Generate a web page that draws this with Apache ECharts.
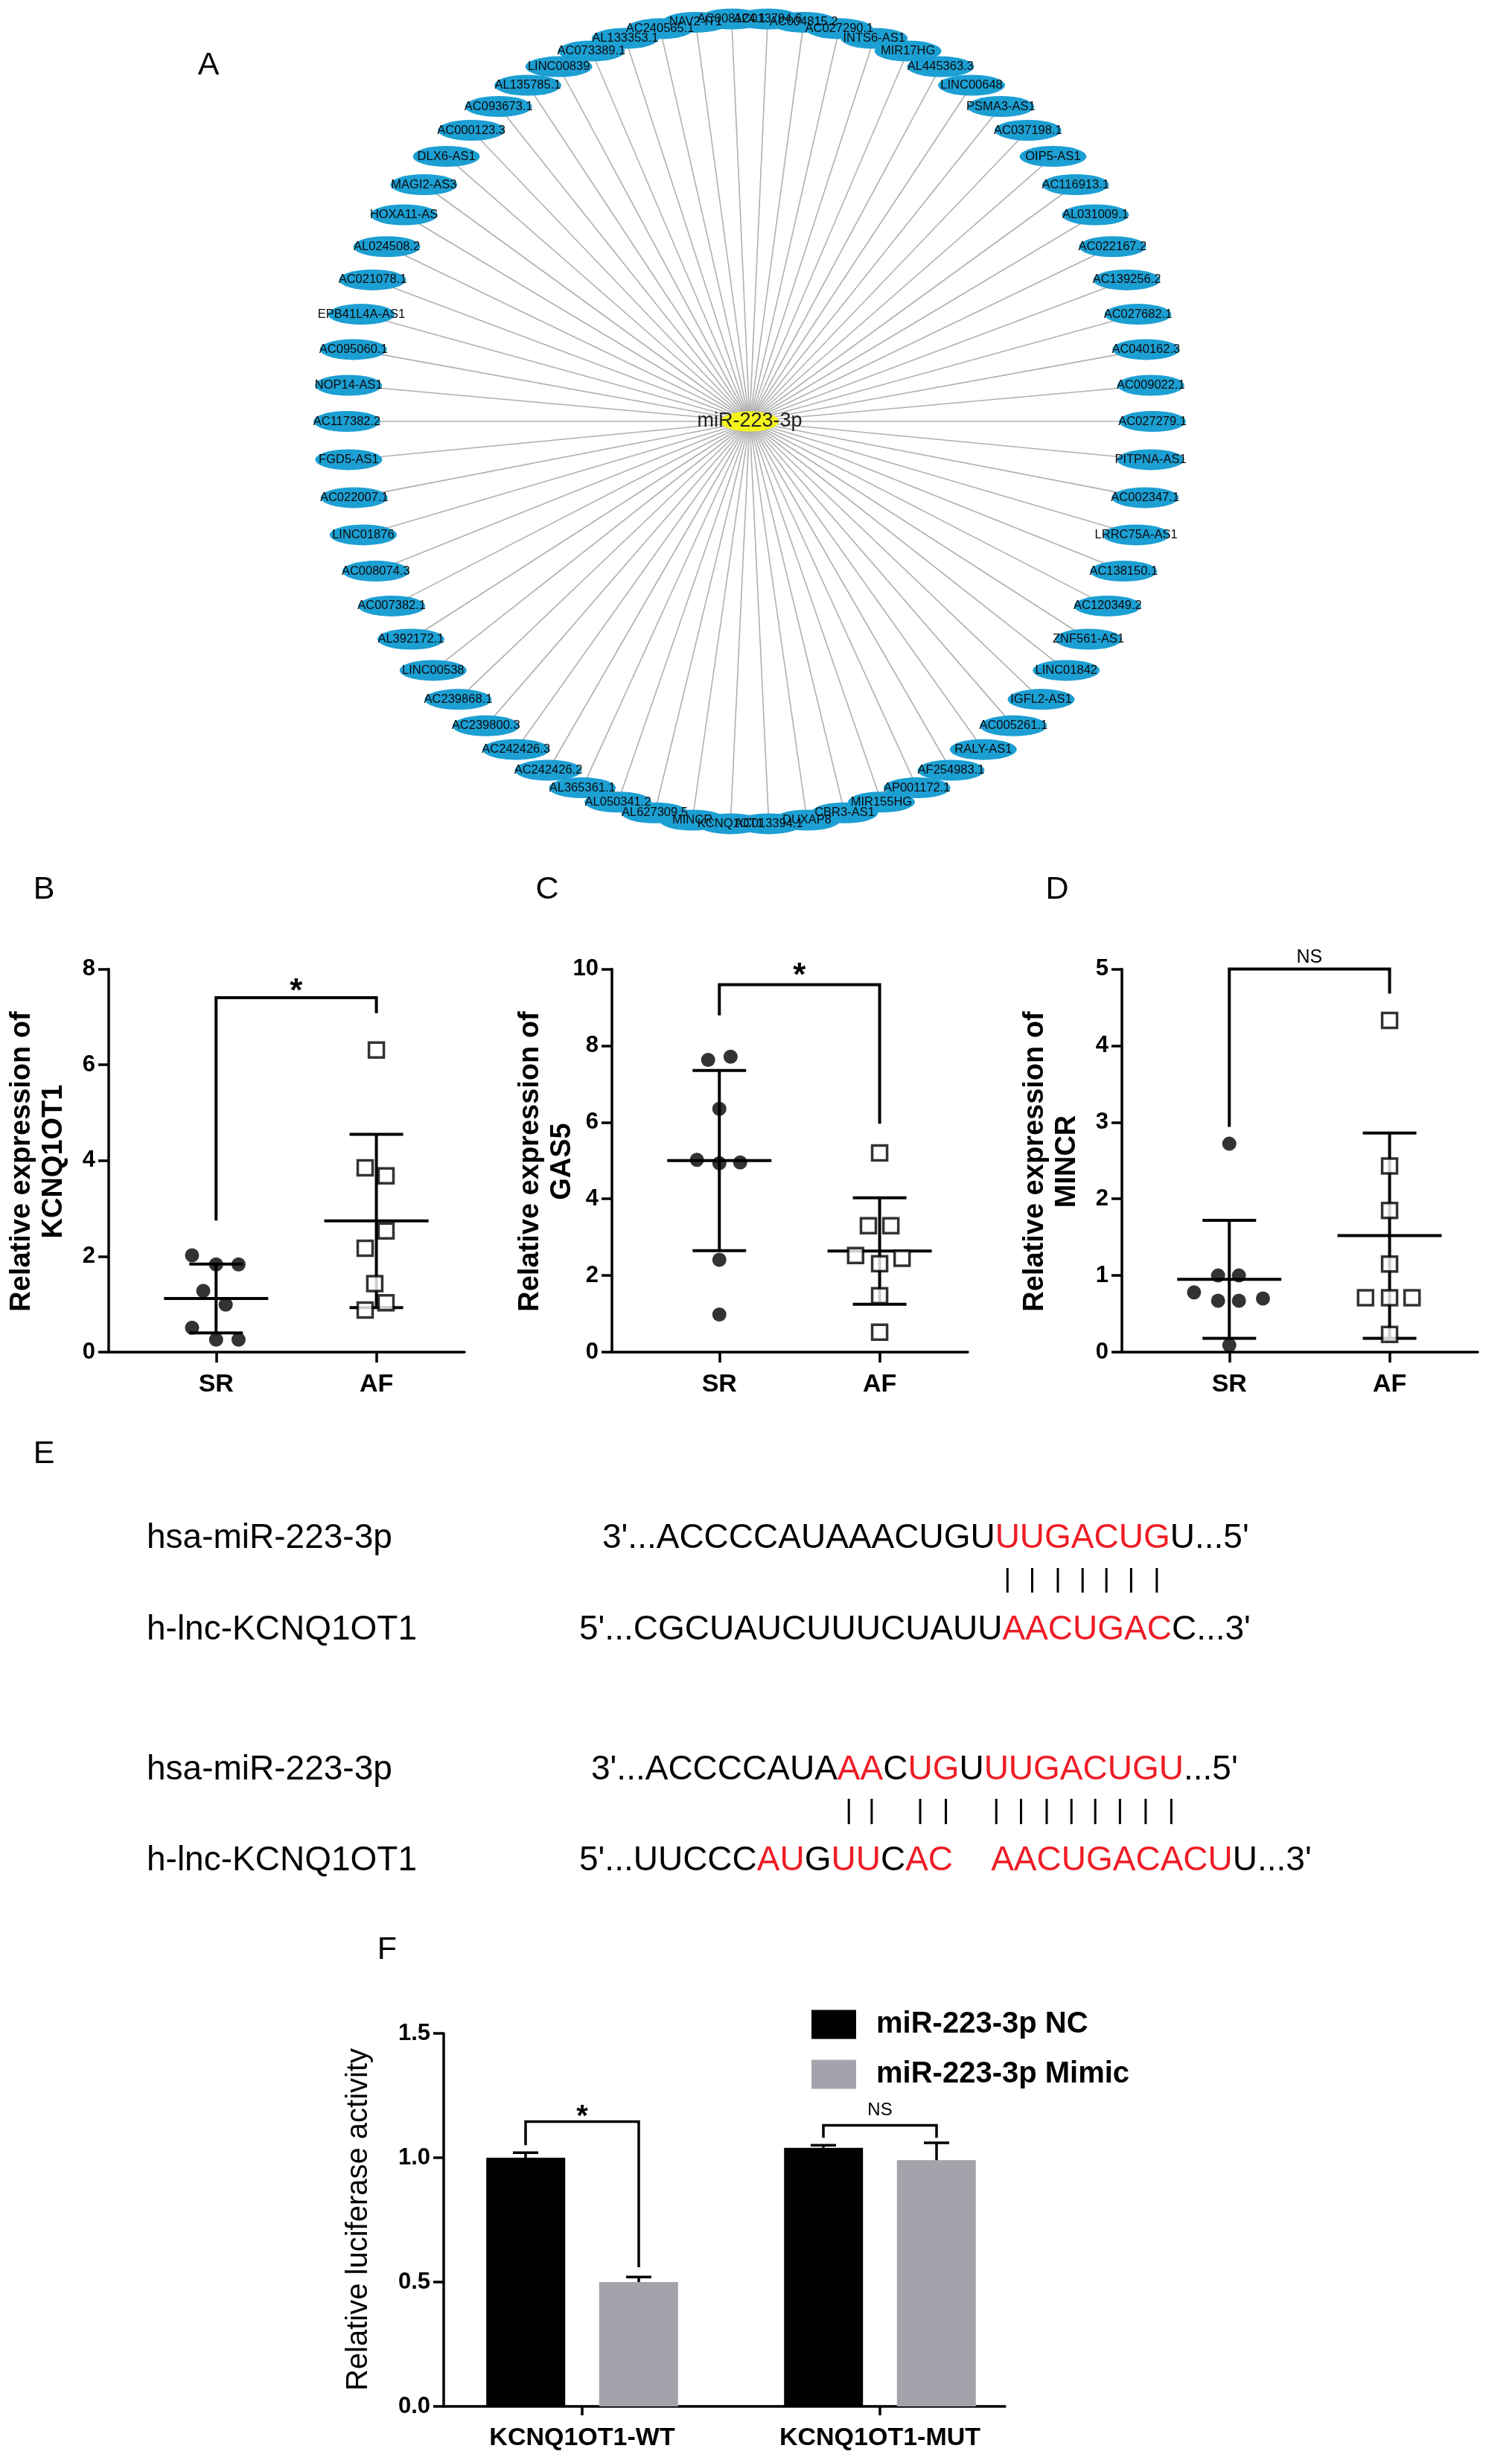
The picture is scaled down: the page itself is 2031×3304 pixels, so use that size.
<!DOCTYPE html>
<html><head><meta charset="utf-8">
<script src="https://cdn.jsdelivr.net/npm/echarts@6/dist/echarts.min.js"></script>
<style>html,body{margin:0;padding:0;background:#fff}#c{width:2031px;height:3304px}</style>
</head><body><div id="c"></div>
<script>
const FONT = '"Liberation Sans", Arial, Helvetica, sans-serif';

// ---------- Panel A : network ----------
const hubName = 'miR-223-3p';
const lncNodes = ['AC008124.1','NAV2-IT1','AC240565.1','AL133353.1','AC073389.1','LINC00839','AL135785.1',
  'AC093673.1','AC000123.3','DLX6-AS1','MAGI2-AS3','HOXA11-AS','AL024508.2','AC021078.1','EPB41L4A-AS1',
  'AC095060.1','NOP14-AS1','AC117382.2','FGD5-AS1','AC022007.1','LINC01876','AC008074.3','AC007382.1',
  'AL392172.1','LINC00538','AC239868.1','AC239800.3','AC242426.3','AC242426.2','AL365361.1','AL050341.2',
  'AL627309.5','MINCR','KCNQ1OT1','AC013394.1','DUXAP8','CBR3-AS1','MIR155HG','AP001172.1','AF254983.1',
  'RALY-AS1','AC005261.1','IGFL2-AS1','LINC01842','ZNF561-AS1','AC120349.2','AC138150.1','LRRC75A-AS1',
  'AC002347.1','PITPNA-AS1','AC027279.1','AC009022.1','AC040162.3','AC027682.1','AC139256.2','AC022167.2',
  'AL031009.1','AC116913.1','OIP5-AS1','AC037198.1','PSMA3-AS1','LINC00648','AL445363.3','MIR17HG',
  'INTS6-AS1','AC027290.1','AC004815.2','AC013794.6'];

// ---------- Panels B-D : expression dot plots ----------
const groups = ['SR', 'AF'];
const kcnq1ot1SR = [2.02, 1.83, 1.83, 1.28, 0.99, 0.51, 0.26, 0.26];
const kcnq1ot1AF = [6.31, 3.85, 3.68, 2.53, 2.17, 1.43, 0.88, 1.03];
const gas5SR = [7.63, 7.71, 6.35, 5.02, 4.93, 4.95, 2.41, 0.98];
const gas5AF = [5.20, 3.30, 3.30, 2.52, 2.31, 2.45, 1.47, 0.52];
const mincrSR = [2.72, 1.00, 1.00, 0.78, 0.67, 0.67, 0.70, 0.09];
const mincrAF = [4.33, 2.43, 1.85, 1.15, 0.71, 0.71, 0.71, 0.23];
const kcnq1ot1Mean = [1.12, 2.74], kcnq1ot1SD = [0.72, 1.81];
const gas5Mean = [5.00, 2.64], gas5SD = [2.35, 1.39];
const mincrMean = [0.95, 1.52], mincrSD = [0.77, 1.34];
// significance brackets: [left leg bottom, right leg bottom, bracket top, label level]
const kcnq1ot1Bracket = [2.75, 7.08, 7.40, 7.67];
const gas5Bracket = [8.79, 5.96, 9.59, 10.0];
const mincrBracket = [2.94, 4.68, 5.00, 5.15];
const sigLabels = ['*', '*', 'NS'];
const yMaxBCD = [8, 10, 5];
const yStepBCD = [2, 2, 1];
// horizontal scatter offsets of the dots inside each column (layout only)
const jitKSR = [-0.15, 0, 0.14, -0.08, 0.06, -0.15, 0, 0.14];
const jitKAF = [0, -0.07, 0.06, 0.06, -0.07, -0.01, -0.07, 0.06];
const jitGSR = [-0.07, 0.07, 0, -0.14, 0, 0.13, 0, 0];
const jitGAF = [0, -0.07, 0.07, -0.15, 0, 0.14, 0, 0];
const jitMSR = [0, -0.07, 0.06, -0.22, -0.07, 0.06, 0.21, 0];
const jitMAF = [0, 0, 0, 0, -0.15, 0, 0.14, 0];

// ---------- Panel F : luciferase ----------
const lucCats = ['KCNQ1OT1-WT', 'KCNQ1OT1-MUT'];
const lucSeries = ['miR-223-3p NC', 'miR-223-3p Mimic'];
const lucNC = [1.00, 1.04], lucNCErr = [0.02, 0.01];
const lucMimic = [0.50, 0.99], lucMimicErr = [0.02, 0.07];
const lucBrackets = [[1.05, 0.56, 1.145, 1.19], [1.08, 1.08, 1.13, 1.19]];
const lucSig = ['*', 'NS'];

// ---------- Panel E : sequences ----------
const seqRows = [
  {label: 'hsa-miR-223-3p', segs: [["3'...ACCCCAUAAACUGU",0],["UUGACUG",1],["U...5'",0]]},
  {label: 'h-lnc-KCNQ1OT1', segs: [["5'...CGCUAUCUUUCUAUU",0],["AACUGAC",1],["C...3'",0]]},
  {label: 'hsa-miR-223-3p', segs: [["3'...ACCCCAUA",0],["AA",1],["C",0],["UG",1],["U",0],["UUGACUGU",1],["...5'",0]]},
  {label: 'h-lnc-KCNQ1OT1', segs: [["5'...UUCCC",0],["AU",1],["G",0],["UU",1],["C",0],["AC",1],["    ",0],["AACUGACACU",1],["U...3'",0]]}
];

// =============== layout ===============
const AX = {color:'#000', width:3.5};
const grids = [
  {left:146, top:1301.5, width:478, height:514.5},
  {left:822, top:1301.5, width:478, height:514.5},
  {left:1507, top:1301.5, width:478, height:514.5},
  {left:596, top:2731, width:754, height:501}
];
const xAxes = [], yAxes = [], series = [];
const panelSR = [kcnq1ot1SR, gas5SR, mincrSR], panelAF = [kcnq1ot1AF, gas5AF, mincrAF];
const panelJSR = [jitKSR, jitGSR, jitMSR], panelJAF = [jitKAF, jitGAF, jitMAF];
const panelMean = [kcnq1ot1Mean, gas5Mean, mincrMean], panelSD = [kcnq1ot1SD, gas5SD, mincrSD];
const panelBr = [kcnq1ot1Bracket, gas5Bracket, mincrBracket];

for (let p = 0; p < 3; p++) {
  xAxes.push({gridIndex:p, type:'value', min:0.33, max:2.55,
    axisLine:{show:true, onZero:false, lineStyle:AX},
    axisTick:{show:true, customValues:[1,2], length:14, lineStyle:AX},
    axisLabel:{customValues:[1,2], formatter:v => groups[Math.round(v)-1], fontSize:34, fontWeight:'bold', color:'#000', margin:27},
    splitLine:{show:false}});
  yAxes.push({gridIndex:p, type:'value', min:0, max:yMaxBCD[p], interval:yStepBCD[p],
    axisLine:{show:true, onZero:false, lineStyle:AX},
    axisTick:{show:true, length:14, lineStyle:AX},
    axisLabel:{fontSize:31, fontWeight:'bold', color:'#000', margin:18},
    splitLine:{show:false}});
  // mean +/- SD
  series.push({type:'custom', xAxisIndex:p, yAxisIndex:p, z:1, silent:true, clip:false,
    data: panelMean[p].map((m,i)=>[i+1, m, panelSD[p][i]]),
    renderItem(params, api){
      const x = api.value(0), m = api.value(1), s = api.value(2);
      const pm = api.coord([x, m]), pt = api.coord([x, m+s]), pb = api.coord([x, m-s]);
      const st = {stroke:'#000', lineWidth:4};
      return {type:'group', children:[
        {type:'line', shape:{x1:pm[0]-70,y1:pm[1],x2:pm[0]+70,y2:pm[1]}, style:st},
        {type:'line', shape:{x1:pt[0],y1:pt[1],x2:pb[0],y2:pb[1]}, style:st},
        {type:'line', shape:{x1:pt[0]-36,y1:pt[1],x2:pt[0]+36,y2:pt[1]}, style:st},
        {type:'line', shape:{x1:pb[0]-36,y1:pb[1],x2:pb[0]+36,y2:pb[1]}, style:st}
      ]};
    }});
  // dots
  series.push({type:'scatter', xAxisIndex:p, yAxisIndex:p, z:3, silent:true,
    data: panelSR[p].map((v,i)=>[1+panelJSR[p][i], v]), symbol:'circle', symbolSize:19,
    itemStyle:{color:'#000'}});
  series.push({type:'scatter', xAxisIndex:p, yAxisIndex:p, z:3, silent:true,
    data: panelAF[p].map((v,i)=>[2+panelJAF[p][i], v]), symbol:'rect', symbolSize:20,
    itemStyle:{color:'#fff', borderColor:'#000', borderWidth:3.5}});
  // bracket
  series.push({type:'custom', xAxisIndex:p, yAxisIndex:p, z:2, silent:true, clip:false,
    data: [panelBr[p]],
    renderItem(params, api){
      const lb = api.value(0), rb = api.value(1), top = api.value(2), ly = api.value(3);
      const a = api.coord([1, lb]), b = api.coord([1, top]), c = api.coord([2, top]), d = api.coord([2, rb]);
      const t = api.coord([1.5, ly]);
      const isStar = sigLabels[p] === '*';
      return {type:'group', children:[
        {type:'polyline', shape:{points:[a,b,c,d]}, style:{stroke:'#000', lineWidth:4, fill:null}},
        {type:'text', x:t[0], y:t[1] + (isStar ? 10 : 0), style:{text:sigLabels[p], align:'center', verticalAlign:'middle',
          font: isStar ? 'bold 44px ' + FONT : '25px ' + FONT, fill:'#000'}}
      ]};
    }});
}

// Panel F axes
xAxes.push({gridIndex:3, type:'value', min:0.535, max:2.42,
  axisLine:{show:true, onZero:false, lineStyle:AX},
  axisTick:{show:true, customValues:[1,2], length:12, lineStyle:AX},
  axisLabel:{customValues:[1,2], formatter:v => lucCats[Math.round(v)-1], fontSize:34, fontWeight:'bold', color:'#000', margin:26},
  splitLine:{show:false}});
yAxes.push({gridIndex:3, type:'value', min:0, max:1.5, interval:0.5,
  axisLine:{show:true, onZero:false, lineStyle:AX},
  axisTick:{show:true, length:14, lineStyle:AX},
  axisLabel:{fontSize:31, fontWeight:'bold', color:'#000', margin:18, formatter:v => v.toFixed(1)},
  splitLine:{show:false}});
const lucVals = [lucNC, lucMimic], lucErrs = [lucNCErr, lucMimicErr], lucColors = ['#000', '#a3a3ab'];
for (let s = 0; s < 2; s++) {
  series.push({type:'bar', name:lucSeries[s], xAxisIndex:3, yAxisIndex:3, z:2, silent:true,
    barWidth:106, barGap:'43%', data: lucVals[s].map((v,i)=>[i+1, v]), itemStyle:{color:lucColors[s]}});
  const off = s === 0 ? -76 : 76;
  series.push({type:'custom', xAxisIndex:3, yAxisIndex:3, z:3, silent:true, clip:false,
    data: lucVals[s].map((v,i)=>[i+1, v, lucErrs[s][i]]),
    renderItem(params, api){
      const x = api.value(0), v = api.value(1), e = api.value(2);
      const p0 = api.coord([x, v]), p1 = api.coord([x, v+e]);
      const X = p0[0] + off, st = {stroke:'#000', lineWidth:3.5};
      return {type:'group', children:[
        {type:'line', shape:{x1:X, y1:p0[1], x2:X, y2:p1[1]}, style:st},
        {type:'line', shape:{x1:X-17, y1:p1[1], x2:X+17, y2:p1[1]}, style:st}
      ]};
    }});
}
series.push({type:'custom', xAxisIndex:3, yAxisIndex:3, z:3, silent:true, clip:false,
  data: lucBrackets.map((b,i)=>[i+1, b[0], b[1], b[2], b[3]]),
  renderItem(params, api){
    const i = params.dataIndex;
    const x = api.value(0);
    const a = api.coord([x, api.value(1)]), top = api.coord([x, api.value(3)]), d = api.coord([x, api.value(2)]);
    const t = api.coord([x, api.value(4)]);
    const L = a[0]-76, R = a[0]+76;
    const star = lucSig[i] === '*';
    return {type:'group', children:[
      {type:'polyline', shape:{points:[[L,a[1]],[L,top[1]],[R,top[1]],[R,d[1]]]}, style:{stroke:'#000', lineWidth:3.5, fill:null}},
      {type:'text', x:t[0], y:t[1] + (star ? 9 : 0), style:{text:lucSig[i], align:'center', verticalAlign:'middle',
        font: star ? 'bold 40px ' + FONT : '24px ' + FONT, fill:'#000'}}
    ]};
  }});

// Network (graph on polar). Ring placement: the two side nodes lie on the horizontal diameter,
// the nodes between them are spread evenly over each half of the ring.
const LEFT_IDX = lncNodes.indexOf('AC117382.2'), RIGHT_IDX = lncNodes.indexOf('AC027279.1');
function ringAngle(i) {
  const N = lncNodes.length;
  if (i >= LEFT_IDX && i <= RIGHT_IDX) return 90 + (i - LEFT_IDX) * 180 / (RIGHT_IDX - LEFT_IDX);
  const k = (i - RIGHT_IDX + N) % N;
  return (270 + k * 180 / (N - (RIGHT_IDX - LEFT_IDX))) % 360;
}
series.push({type:'graph', coordinateSystem:'polar', polarIndex:0, silent:true, z:2,
  symbol:'circle', symbolSize:[90,28],
  itemStyle:{color:'#1c9fd3'},
  label:{show:true, position:'inside', fontSize:16.5, color:'#0a0a0a', fontFamily:FONT},
  lineStyle:{color:'#b0b0b0', width:1.6, opacity:1, curveness:0},
  emphasis:{disabled:true},
  data: [{name:hubName, value:[0,0], symbolSize:[78,27], itemStyle:{color:'#f4f41c'}, label:{fontSize:27, color:'#222'}}]
    .concat(lncNodes.map((n,i)=>({name:n, value:[1, ringAngle(i)]}))),
  links: lncNodes.map(n=>({source:hubName, target:n}))
});

// =============== graphics (letters, titles, sequences) ===============
const graphic = [];
const letters = [['A',280,88],['B',59,1195],['C',735,1195],['D',1420,1195],['E',59,1953],['F',520,2619]];
letters.forEach(l => graphic.push({type:'text', x:l[1], y:l[2], silent:true,
  style:{text:l[0], align:'center', verticalAlign:'middle', font:'43px ' + FONT, fill:'#000'}}));
const yTitles = [['Relative expression of\nKCNQ1OT1', 51, 1560, 'bold 38px '],
                 ['Relative expression of\nGAS5', 734, 1560, 'bold 38px '],
                 ['Relative expression of\nMINCR', 1412, 1560, 'bold 38px '],
                 ['Relative luciferase activity', 482, 2981, '40px ']];
yTitles.forEach(t => graphic.push({type:'text', x:t[1], y:t[2], rotation:Math.PI/2, silent:true,
  style:{text:t[0], align:'center', verticalAlign:'middle', font:t[3] + FONT, lineHeight:43, fill:'#000'}}));

const SEQ_FONT = '46px ' + FONT;
const mctx = document.createElement('canvas').getContext('2d');
mctx.font = SEQ_FONT;
const rowY = [2066, 2189, 2377, 2499];
const rowX = [809, 778, 794, 778];
const barY = [[2106, 2139], null, [2416, 2450], null];
seqRows.forEach((r, k) => {
  graphic.push({type:'text', x:197, y:rowY[k], silent:true,
    style:{text:r.label, align:'left', verticalAlign:'middle', font:SEQ_FONT, fill:'#000'}});
  graphic.push({type:'text', x:rowX[k], y:rowY[k], silent:true,
    style:{text: r.segs.map(s => '{' + (s[1] ? 'r' : 'k') + '|' + s[0] + '}').join(''),
      align:'left', verticalAlign:'middle', font:SEQ_FONT,
      rich:{k:{fill:'#000', fontSize:46, fontFamily:FONT}, r:{fill:'#ee1c25', fontSize:46, fontFamily:FONT}}}});
  if (barY[k]) {
    let prefix = '';
    r.segs.forEach(s => {
      for (const ch of s[0]) {
        if (s[1]) {
          const cx = rowX[k] + mctx.measureText(prefix).width + mctx.measureText(ch).width/2;
          graphic.push({type:'line', silent:true, shape:{x1:cx, y1:barY[k][0], x2:cx, y2:barY[k][1]}, style:{stroke:'#000', lineWidth:3}});
        }
        prefix += ch;
      }
    });
  }
});

const option = {
  animation:false,
  backgroundColor:'#fff',
  textStyle:{fontFamily:FONT},
  grid: grids.map(g => Object.assign({containLabel:false}, g)),
  xAxis: xAxes, yAxis: yAxes,
  polar: {center:[1007, 566], radius:541},
  angleAxis: {polarIndex:0, type:'value', min:0, max:360, startAngle:90, clockwise:false, show:false},
  radiusAxis: {polarIndex:0, type:'value', min:0, max:1, show:false},
  legend: {data:lucSeries, orient:'vertical', left:1085, top:2694, itemWidth:60, itemHeight:39, itemGap:27,
    icon:'rect', selectedMode:false, textStyle:{fontSize:40, fontWeight:'bold', color:'#000', padding:[0,0,0,22]}},
  series: series,
  graphic: graphic
};
const chart = echarts.init(document.getElementById('c'), null, {renderer:'canvas', width:2031, height:3304});
chart.setOption(option);
</script></body></html>
